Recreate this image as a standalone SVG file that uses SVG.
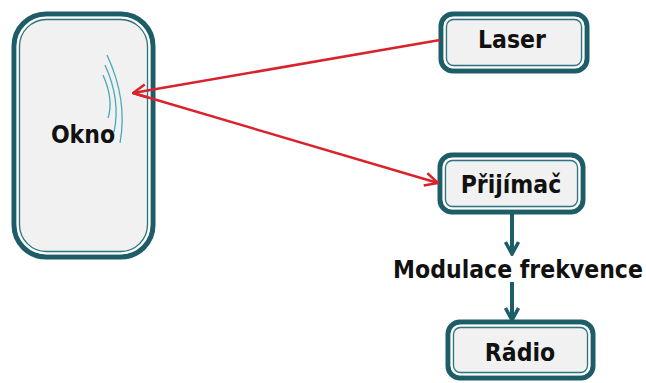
<svg xmlns="http://www.w3.org/2000/svg" width="646" height="383" viewBox="0 0 646 383">
<style>
.outer{fill:#f1f1f1;stroke:#1d5d68;stroke-width:5}
.gap{fill:none;stroke:#ffffff;stroke-width:1.6}
.inner{fill:none;stroke:#2b7480;stroke-width:1.3}
.lbl{font-family:"DejaVu Sans Condensed","DejaVu Sans",Verdana,sans-serif;font-stretch:condensed;font-weight:bold;font-size:24.5px;fill:#111;text-anchor:middle}
.red{stroke:#d8232d;stroke-width:2.5;fill:none}
.teal{stroke:#1d5d68;stroke-width:4;fill:none}
.wave{stroke:#4aa9b8;stroke-width:1.3;fill:none}
</style>
<defs>
<marker id="rh" viewBox="0 0 16 16" refX="15" refY="8" markerWidth="16" markerHeight="16" markerUnits="userSpaceOnUse" orient="auto">
<path d="M2,1.5 L15,8 L2,14.5" fill="none" stroke="#d8232d" stroke-width="2.5"/>
</marker>
<marker id="th" viewBox="0 0 16 16" refX="14" refY="8" markerWidth="16" markerHeight="16" markerUnits="userSpaceOnUse" orient="auto">
<path d="M2,1.5 L14,8 L2,14.5" fill="none" stroke="#1d5d68" stroke-width="3.5"/>
</marker>
</defs>
<g id="okno">
<rect class="outer" x="14" y="14" width="139" height="243" rx="32"/>
<rect class="gap" x="17.5" y="17.5" width="132" height="236" rx="29"/>
<rect class="inner" x="19.5" y="19.5" width="128" height="232" rx="27"/>
<path class="wave" d="M107,55 Q128,100 120,143"/>
<path class="wave" d="M105,65 Q121,100 114,132"/>
<path class="wave" d="M103,75 Q114,100 108,118"/>
<text class="lbl" x="83" y="143">Okno</text>
</g>
<g id="laser">
<rect class="outer" x="441" y="14" width="146" height="57" rx="12"/>
<rect class="gap" x="444.5" y="17.5" width="139" height="50" rx="9"/>
<rect class="inner" x="446.5" y="19.5" width="135" height="46" rx="7"/>
<text class="lbl" x="512" y="48">Laser</text>
</g>
<g id="prijimac">
<rect class="outer" x="440" y="155" width="143" height="57" rx="12"/>
<rect class="gap" x="443.5" y="158.5" width="136" height="50" rx="9"/>
<rect class="inner" x="445.5" y="160.5" width="132" height="46" rx="7"/>
<text class="lbl" x="511" y="193">Přijímač</text>
</g>
<g id="radio">
<rect class="outer" x="448" y="322" width="145" height="56" rx="12"/>
<rect class="gap" x="451.5" y="325.5" width="138" height="49" rx="9"/>
<rect class="inner" x="453.5" y="327.5" width="134" height="45" rx="7"/>
<text class="lbl" x="520" y="361">Rádio</text>
</g>
<g id="connectors">
<line class="red" x1="440" y1="40" x2="133" y2="93" marker-end="url(#rh)"/>
<line class="red" x1="133" y1="93" x2="438" y2="183" marker-end="url(#rh)"/>
<line class="teal" x1="512" y1="213" x2="512" y2="254" marker-end="url(#th)"/>
<line class="teal" x1="512" y1="282" x2="512" y2="320" marker-end="url(#th)"/>
<text class="lbl" x="518" y="278">Modulace frekvence</text>
</g>
</svg>
